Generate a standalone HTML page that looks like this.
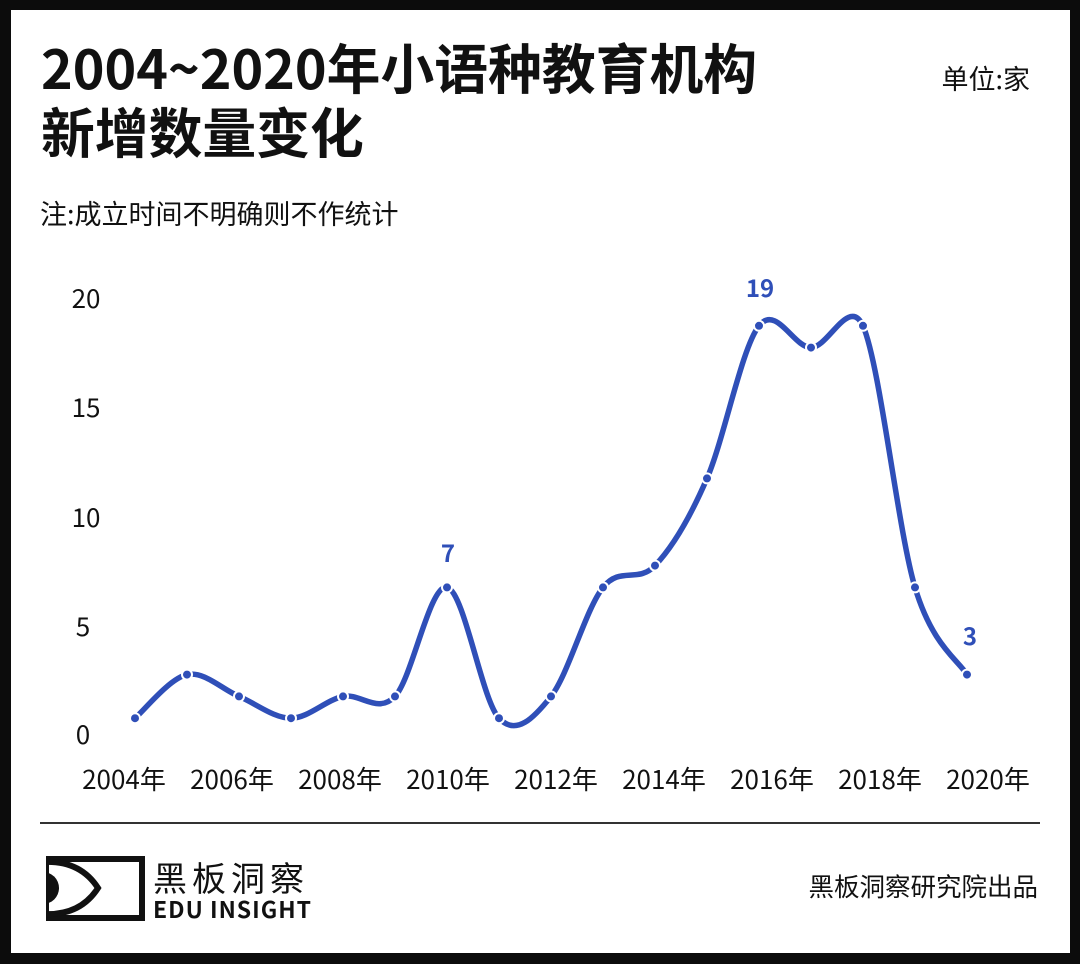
<!DOCTYPE html>
<html><head><meta charset="utf-8"><style>
html,body{margin:0;padding:0;background:#0c0c0c;}
#f{position:relative;width:1080px;height:964px;background:#0c0c0c;overflow:hidden;}
#w{position:absolute;left:11px;top:10px;width:1059px;height:943px;background:#fff;}
</style></head><body><div id="f"><div id="w"></div>
<svg width="1080" height="964" style="position:absolute;left:0;top:0" font-family="Noto Sans CJK SC, Liberation Sans, sans-serif">
<text x="41" y="89" font-size="53.8" font-weight="bold" fill="#111">2004~2020年小语种教育机构</text>
<text x="41" y="153" font-size="53.8" font-weight="bold" fill="#111">新增数量变化</text>
<text x="1030" y="89" font-size="27" fill="#111" text-anchor="end">单位:家</text>
<text x="40" y="224" font-size="27" fill="#111">注:成立时间不明确则不作统计</text>
<g font-size="26" fill="#111" text-anchor="middle">
<text x="83" y="744">0</text><text x="83" y="636">5</text><text x="86" y="527">10</text><text x="86" y="417">15</text><text x="86" y="308">20</text>
<text x="124" y="789">2004年</text><text x="232" y="789">2006年</text><text x="340" y="789">2008年</text><text x="448" y="789">2010年</text><text x="556" y="789">2012年</text><text x="664" y="789">2014年</text><text x="772" y="789">2016年</text><text x="880" y="789">2018年</text><text x="988" y="789">2020年</text>
</g>
<path fill="none" stroke="#2f4fb8" stroke-width="5.5" stroke-linecap="round" d="M135,718.2 C143.7,710.9 169.7,678.2 187,674.6 C204.3,671 221.7,689.1 239,696.4 C256.3,703.7 273.7,718.2 291,718.2 C308.3,718.2 325.7,700 343,696.4 C360.3,692.8 377.7,714.6 395,696.4 C412.3,678.2 429.7,583.8 447,587.4 C464.3,591 481.7,700 499,718.2 C516.3,736.4 533.7,718.2 551,696.4 C568.3,674.6 585.7,609.2 603,587.4 C620.3,565.6 637.7,583.8 655,565.6 C672.3,547.4 689.7,518.4 707,478.4 C724.3,438.4 741.7,347.6 759,325.8 C776.3,304 793.7,347.6 811,347.6 C828.3,347.6 848.7,295.8 863,325.8 C880.3,365.8 897.7,529.3 915,587.4 C932.3,645.5 958.3,660.1 967,674.6"/>
<g fill="#2f4fb8" stroke="#fff" stroke-width="2">
<circle cx="135" cy="718.2" r="5"/><circle cx="187" cy="674.6" r="5"/><circle cx="239" cy="696.4" r="5"/><circle cx="291" cy="718.2" r="5"/><circle cx="343" cy="696.4" r="5"/><circle cx="395" cy="696.4" r="5"/><circle cx="447" cy="587.4" r="5"/><circle cx="499" cy="718.2" r="5"/><circle cx="551" cy="696.4" r="5"/><circle cx="603" cy="587.4" r="5"/><circle cx="655" cy="565.6" r="5"/><circle cx="707" cy="478.4" r="5"/><circle cx="759" cy="325.8" r="5"/><circle cx="811" cy="347.6" r="5"/><circle cx="863" cy="325.8" r="5"/><circle cx="915" cy="587.4" r="5"/><circle cx="967" cy="674.6" r="5"/>
</g>
<g font-size="24" font-weight="bold" fill="#2f4fb8" text-anchor="middle">
<text x="760" y="297">19</text><text x="448" y="562">7</text><text x="970" y="645">3</text>
</g>
<rect x="40" y="822" width="1000" height="2" fill="#333"/>
<rect x="46" y="859" width="96" height="59" fill="none" stroke="#111" stroke-width="6"/>
<path d="M43,862 Q80,860 98,888 Q80,916 43,914" fill="none" stroke="#111" stroke-width="6"/>
<path d="M43,872 A16,16 0 0 1 43,904 Z" fill="#111"/>
<rect x="40" y="855" width="6" height="66" fill="#fff"/>
<text x="153" y="891" font-size="34" fill="#111" letter-spacing="5">黑板洞察</text>
<text x="153" y="918" font-size="23" font-weight="bold" fill="#111" letter-spacing="1">EDU INSIGHT</text>
<text x="1038" y="896" font-size="25.5" fill="#111" text-anchor="end">黑板洞察研究院出品</text>
</svg></div></body></html>
